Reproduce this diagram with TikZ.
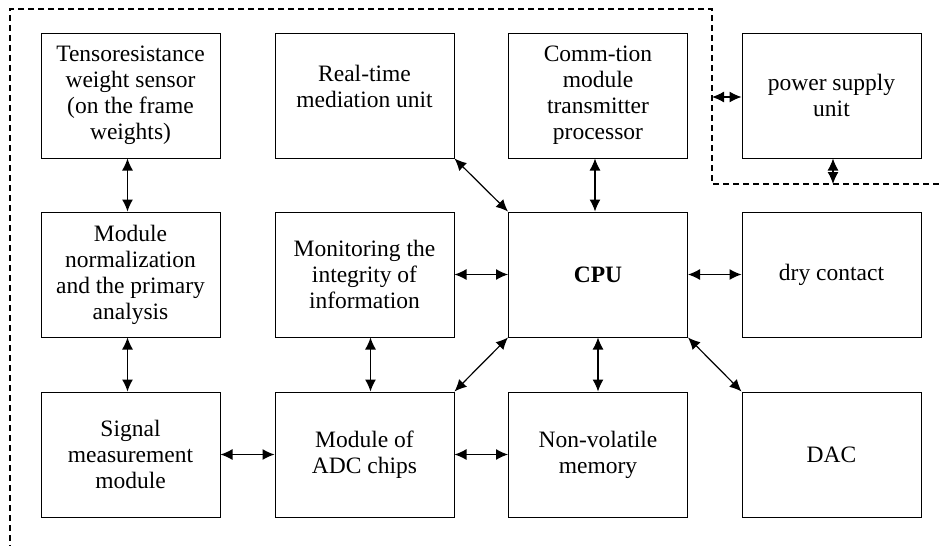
\documentclass[tikz,border=0pt]{standalone}
\usepackage{fontspec}
\setmainfont{Liberation Serif}
\usetikzlibrary{arrows.meta}

\begin{document}
\begin{tikzpicture}[x=1pt,y=-1pt,
  block/.style={draw,line width=1pt,minimum width=179pt,minimum height=125pt,
    inner sep=0pt,align=center,font=\fontsize{23.5}{26}\selectfont},
  link/.style={line width=1.2pt,{Latex[length=12pt,width=11pt]}-{Latex[length=12pt,width=11pt]}},
  border/.style={line width=1.1pt,dash pattern=on 6pt off 4pt}]
\useasboundingbox (0,0) rectangle (939,546);
% boxes
\node[block] (tens) at (130.5,95.5) {Tensoresistance\\weight sensor\\(on the frame\\weights)};
\node[block] (real) at (364.5,95.5) {Real-time\\mediation unit\\[-8pt]};
\node[block] (comm) at (598,95.5) {Comm-tion\\module\\transmitter\\processor};
\node[block] (power) at (831.5,95.5) {power supply\\unit};
\node[block] (norm) at (130.5,274.5) {Module\\normalization\\and the primary\\analysis};
\node[block] (monit) at (364.5,274.5) {Monitoring the\\integrity of\\information};
\node[block] (cpu) at (598,274.5) {\bfseries CPU};
\node[block] (dry) at (831.5,274.5) {dry contact};
\node[block] (signal) at (130.5,454.5) {Signal\\measurement\\module};
\node[block] (adc) at (364.5,454.5) {Module of\\ADC chips};
\node[block] (memory) at (598,454.5) {Non-volatile\\memory};
\node[block] (dac) at (831.5,454.5) {DAC};
% dashed border
\draw[border] (939,184) -- (712,184) -- (712,9) -- (10,9) -- (10,546);
\coordinate (bleft) at (712,97);
\coordinate (bbottom) at (833,184);
% links
\draw[link] ([xshift=-3pt]tens.south) -- ([xshift=-3pt]norm.north);
\draw[link] ([xshift=-3pt]norm.south) -- ([xshift=-3pt]signal.north);
\draw[link] (signal) -- (adc);
\draw[link] ([xshift=6pt]monit.south) -- ([xshift=6pt]adc.north);
\draw[link] (adc) -- (memory);
\draw[link] (adc.north east) -- (cpu.south west);
\draw[link] (monit) -- (cpu);
\draw[link] (real.south east) -- (cpu.north west);
\draw[link] ([xshift=-3pt]comm.south) -- ([xshift=-3pt]cpu.north);
\draw[link] (cpu) -- (dry);
\draw[link] (cpu) -- (memory);
\draw[link] (cpu.south east) -- (dac.north west);
\draw[link] (bleft) -- (bleft -| power.west);
\draw[link] (bbottom |- power.south) -- (bbottom);
\end{tikzpicture}
\end{document}
